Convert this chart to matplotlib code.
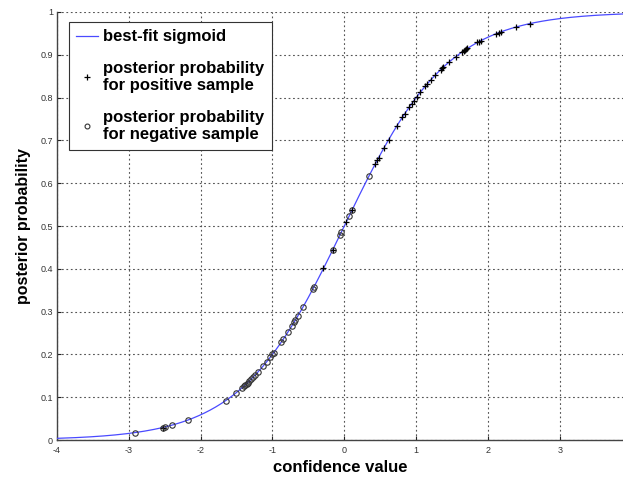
import numpy as np
import matplotlib
matplotlib.use("Agg")
import matplotlib.pyplot as plt

plt.rcParams['font.family'] = ['Liberation Sans', 'DejaVu Sans']
plt.rcParams['axes.unicode_minus'] = False

# fitted sigmoid parameters: P = 1 / (1 + exp(-(A*x + B)))
SIGMOID_A = 1.386
SIGMOID_B = 0.0

neg_x = [-2.92, -2.53, -2.50, -2.40, -2.17, -1.65, -1.51, -1.43, -1.40, -1.38,
         -1.36, -1.34, -1.32, -1.30, -1.27, -1.24, -1.20, -1.13, -1.08, -1.03,
         -1.00, -0.98, -0.88, -0.85, -0.78, -0.73, -0.70, -0.68, -0.65, -0.58,
         -0.44, -0.42, -0.16, -0.06, -0.04, 0.07, 0.11, 0.34]
neg_y = [0.017, 0.029, 0.030, 0.035, 0.047, 0.092, 0.110, 0.121, 0.126, 0.129,
         0.131, 0.134, 0.137, 0.142, 0.147, 0.152, 0.159, 0.172, 0.183, 0.194,
         0.200, 0.204, 0.228, 0.235, 0.253, 0.267, 0.275, 0.280, 0.289, 0.310,
         0.352, 0.358, 0.444, 0.479, 0.486, 0.524, 0.538, 0.616]

pos_x = [-2.52, -0.29, -0.16, 0.03, 0.11, 0.43, 0.46, 0.48, 0.55, 0.62,
         0.73, 0.81, 0.84, 0.90, 0.94, 0.97, 1.01, 1.06, 1.13, 1.15,
         1.20, 1.26, 1.34, 1.36, 1.38, 1.46, 1.55, 1.64, 1.66, 1.68,
         1.70, 1.71, 1.85, 1.88, 1.90, 2.11, 2.15, 2.18, 2.39, 2.58]
pos_y = [0.029, 0.401, 0.444, 0.510, 0.538, 0.645, 0.654, 0.660, 0.682, 0.702,
         0.733, 0.754, 0.762, 0.777, 0.786, 0.793, 0.802, 0.813, 0.828, 0.831,
         0.841, 0.852, 0.865, 0.868, 0.871, 0.883, 0.896, 0.907, 0.909, 0.911,
         0.913, 0.915, 0.929, 0.931, 0.933, 0.949, 0.952, 0.953, 0.965, 0.973]

x_ticks = [-4, -3, -2, -1, 0, 1, 2, 3]
y_ticks = [0, 0.1, 0.2, 0.3, 0.4, 0.5, 0.6, 0.7, 0.8, 0.9, 1]
y_tick_labels = ['0', '0.1', '0.2', '0.3', '0.4', '0.5', '0.6', '0.7', '0.8', '0.9', '1']

x_min, x_max = -4, 3.88

fig = plt.figure(figsize=(6.23, 4.84), dpi=100)
ax = fig.add_axes([57 / 623, 44 / 484, 566 / 623, 428 / 484])

xc = np.linspace(x_min, x_max, 400)
yc = 1.0 / (1.0 + np.exp(-(SIGMOID_A * xc + SIGMOID_B)))
ax.plot(xc, yc, color='#4a4aff', lw=0.9, label='best-fit sigmoid', zorder=3)
ax.plot(pos_x, pos_y, linestyle='none', marker='+', color='black', ms=4.8,
        mew=0.9, label='posterior probability\nfor positive sample', zorder=4)
ax.plot(neg_x, neg_y, linestyle='none', marker='o', mfc='none', mec='#333333',
        ms=3.9, mew=0.8, label='posterior probability\nfor negative sample', zorder=4)

ax.set_xlim(x_min, x_max)
ax.set_ylim(0, 1)
ax.set_xticks(x_ticks)
ax.set_yticks(y_ticks)
ax.set_yticklabels(y_tick_labels)
ax.tick_params(direction='in', length=3, labelsize=6.5, colors='#222222',
               labelcolor='#333333')
ax.tick_params(axis='x', pad=4)
ax.tick_params(axis='y', pad=3)
ax.grid(True, linestyle=(0, (1.6, 2.4)), color='#555555', lw=0.8)
ax.set_axisbelow(True)
for s in ['top', 'right']:
    ax.spines[s].set_visible(False)
for s in ['left', 'bottom']:
    ax.spines[s].set_color('#444444')
    ax.spines[s].set_linewidth(1.0)

ax.set_xlabel('confidence value', fontsize=12, fontweight='bold')
ax.set_ylabel('posterior probability', fontsize=11.5, fontweight='bold')
# label centres in axes-fraction coordinates
ax.xaxis.set_label_coords((340 - 57) / 566, -(468 - 440) / 428)
ax.yaxis.set_label_coords(-(57 - 24) / 566, 0.5)
ax.xaxis.label.set_va('center')
ax.yaxis.label.set_va('center')

leg = ax.legend(loc='upper left', bbox_to_anchor=(0.021, 0.977),
                prop={'weight': 'bold', 'size': 12}, frameon=True, fancybox=False,
                edgecolor='#333333', framealpha=1, handlelength=1.3,
                borderpad=0.45, labelspacing=1.0, handletextpad=0.3,
                borderaxespad=0, markerscale=0.9)
leg.get_frame().set_linewidth(0.8)

fig.savefig('out.png', dpi=100, facecolor='white')
